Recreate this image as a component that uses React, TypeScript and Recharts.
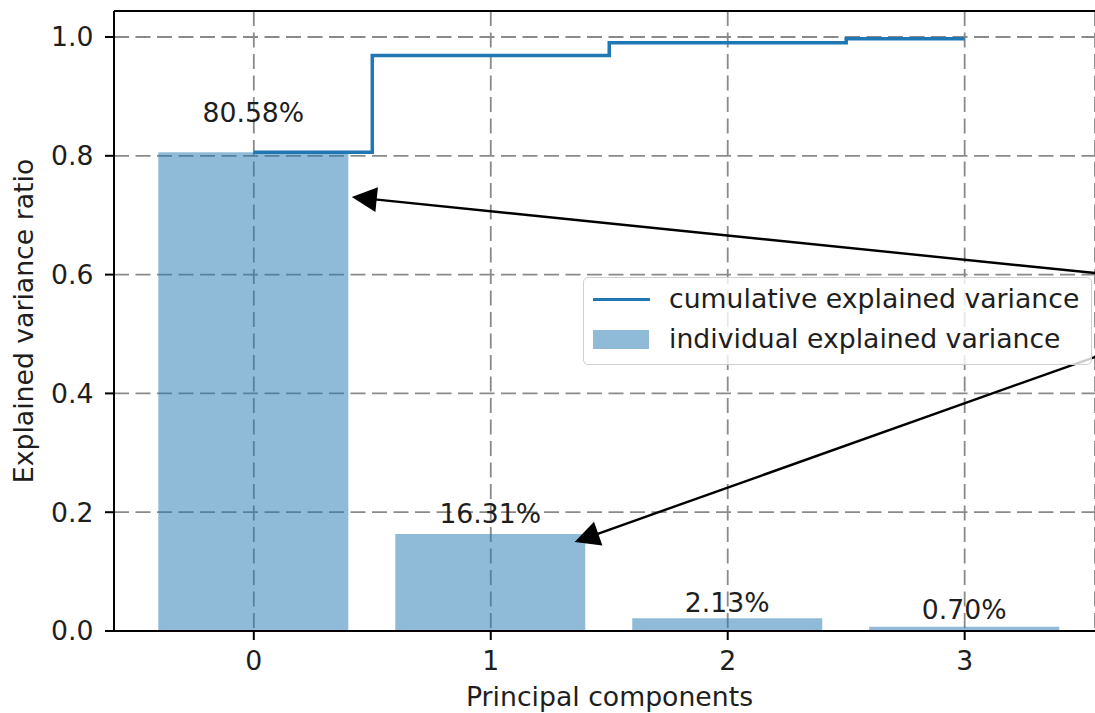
import React from 'react';
import {
  ComposedChart,
  Bar,
  Line,
  XAxis,
  YAxis,
  CartesianGrid,
  ReferenceLine,
  Legend,
  LabelList,
} from 'recharts';

// ---- data ----
const components = [0, 1, 2, 3];
const individualVariance = [0.8058, 0.1631, 0.0213, 0.007];
const cumulativeVariance = [0.8058, 0.9689, 0.9902, 0.9972];
const xTicks = [0, 1, 2, 3];
const yTicks = [0, 0.2, 0.4, 0.6, 0.8, 1.0];
const xDomain = [-0.59, 3.55];
const yDomain = [0, 1.0438];
const arrowTails = [
  { x: 3.7, y: 0.5965 },
  { x: 3.7, y: 0.4827 },
];
const arrowTips = [
  { x: 0.4135, y: 0.7306 },
  { x: 1.354, y: 0.1498 },
];
const seriesNames = ['cumulative explained variance', 'individual explained variance'];

const data = components.map((pc, i) => ({
  pc,
  individual: individualVariance[i],
  cumulative: cumulativeVariance[i],
}));

// ---- styles ----
const FONT = 'DejaVu Sans';
const TEXT = '#1e1e1e';
const BLUE = '#1f77b4';
const FS = 26.7;

const labelLift = [30, 11, 6, 8];

const renderBarLabel = (props: any) => {
  const { x, y, width, value, index } = props;
  return (
    <text
      x={Number(x) + Number(width) / 2}
      y={Number(y) - labelLift[index ?? 0]}
      textAnchor="middle"
      fontFamily={FONT}
      fontSize={FS}
      fill={TEXT}
    >
      {(Number(value) * 100).toFixed(2)}%
    </text>
  );
};

const ArrowShape = (props: any) => {
  const { x1, y1, x2, y2 } = props;
  const dx = x2 - x1;
  const dy = y2 - y1;
  const len = Math.hypot(dx, dy) || 1;
  const ux = dx / len;
  const uy = dy / len;
  const headLen = 25;
  const half = 12.5;
  const bx = x2 - ux * headLen;
  const by = y2 - uy * headLen;
  const px = -uy;
  const py = ux;
  return (
    <g>
      <line x1={x1} y1={y1} x2={bx + ux * 2} y2={by + uy * 2} stroke="#000" strokeWidth={2.4} />
      <polygon
        points={`${x2},${y2} ${bx + px * half},${by + py * half} ${bx - px * half},${by - py * half}`}
        fill="#000"
      />
    </g>
  );
};

const renderLegend = () => (
  <div
    style={{
      position: 'relative',
      width: 509,
      height: 88,
      boxSizing: 'border-box',
      border: '1.5px solid #d0d0d0',
      borderRadius: 5,
      background: 'rgba(255,255,255,0.8)',
      fontFamily: FONT,
      fontSize: FS,
      color: TEXT,
    }}
  >
    <div style={{ position: 'absolute', left: 9, top: 19.5, width: 57, height: 3.5, background: BLUE }} />
    <div style={{ position: 'absolute', left: 85, top: 21, transform: 'translateY(-50%)', whiteSpace: 'nowrap', lineHeight: 1 }}>
      {seriesNames[0]}
    </div>
    <div style={{ position: 'absolute', left: 9, top: 52, width: 56, height: 19, background: BLUE, opacity: 0.5 }} />
    <div style={{ position: 'absolute', left: 85, top: 61, transform: 'translateY(-50%)', whiteSpace: 'nowrap', lineHeight: 1 }}>
      {seriesNames[1]}
    </div>
  </div>
);

const XLabel = (props: any) => {
  const vb = props.viewBox || { x: 114, y: 631, width: 981, height: 82 };
  return (
    <text x={vb.x + vb.width / 2 + 5} y={vb.y + 75} textAnchor="middle" fontFamily={FONT} fontSize={FS} fill={TEXT}>
      Principal components
    </text>
  );
};

const YLabel = (props: any) => {
  const vb = props.viewBox || { x: 0, y: 11, width: 114, height: 620 };
  const cx = 33;
  const cy = vb.y + vb.height / 2;
  return (
    <text
      x={cx}
      y={cy}
      transform={`rotate(-90 ${cx} ${cy})`}
      textAnchor="middle"
      fontFamily={FONT}
      fontSize={FS}
      fill={TEXT}
    >
      Explained variance ratio
    </text>
  );
};

const tickStyle = { fontFamily: FONT, fontSize: FS, fill: TEXT };

export default function App() {
  return (
    <div style={{ position: 'absolute', left: 0, top: 0, width: 1095, height: 713, background: '#fff' }}>
      <ComposedChart width={1095} height={713} data={data} margin={{ top: 11, right: 0, bottom: 0, left: 0 }}>
        <CartesianGrid stroke="#8a8a8a" strokeWidth={1.8} strokeDasharray="15 6.5" />
        <XAxis
          type="number"
          dataKey="pc"
          domain={xDomain}
          ticks={xTicks}
          allowDataOverflow
          interval={0}
          height={82}
          tickSize={9}
          tickMargin={11}
          tick={tickStyle}
          stroke="#000"
          strokeWidth={2}
          tickLine={{ stroke: '#000', strokeWidth: 2 }}
          label={<XLabel />}
        />
        <YAxis
          type="number"
          domain={yDomain}
          ticks={yTicks}
          allowDataOverflow
          interval={0}
          width={114}
          tickSize={9}
          tickMargin={11.5}
          tick={tickStyle}
          tickFormatter={(v: number) => v.toFixed(1)}
          stroke="#000"
          strokeWidth={2}
          tickLine={{ stroke: '#000', strokeWidth: 2 }}
          label={<YLabel />}
        />
        <Bar dataKey="individual" fill={BLUE} fillOpacity={0.5} barSize={190} isAnimationActive={false}>
          <LabelList dataKey="individual" content={renderBarLabel} />
        </Bar>
        <Line
          type="step"
          dataKey="cumulative"
          stroke={BLUE}
          strokeWidth={3.5}
          dot={false}
          activeDot={false}
          isAnimationActive={false}
        />
        <ReferenceLine y={yDomain[1]} stroke="#000" strokeWidth={2} ifOverflow="visible" />
        {arrowTips.map((tip, i) => (
          <ReferenceLine
            key={i}
            segment={[arrowTails[i], tip]}
            ifOverflow="visible"
            shape={<ArrowShape />}
          />
        ))}
        <Legend
          layout="horizontal"
          verticalAlign="middle"
          align="center"
          wrapperStyle={{ left: 583, top: 277, width: 509, height: 88 }}
          content={renderLegend}
        />
      </ComposedChart>
    </div>
  );
}
